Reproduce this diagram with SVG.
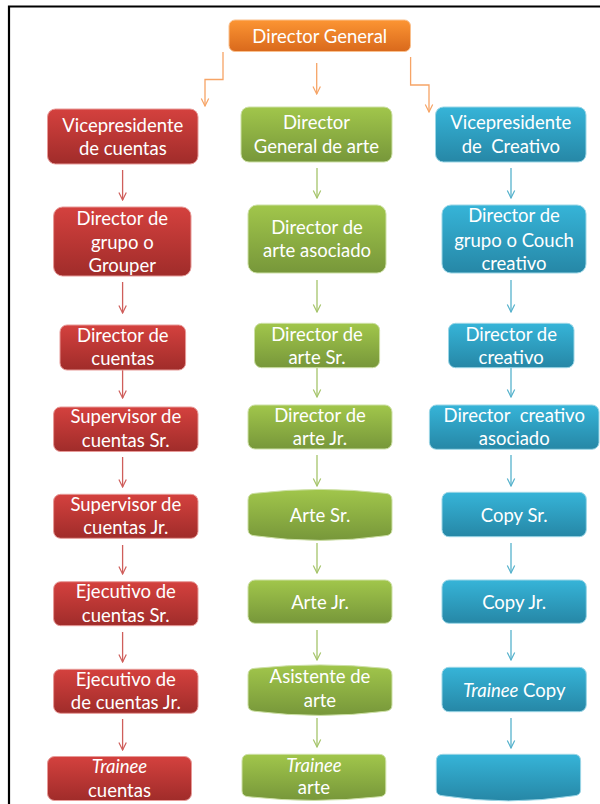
<svg xmlns="http://www.w3.org/2000/svg" width="600" height="804" viewBox="0 0 600 804">
<defs>
<linearGradient id="gO" x1="0" y1="0" x2="0" y2="1"><stop offset="0" stop-color="#fc9533"/><stop offset="1" stop-color="#d9691c"/></linearGradient>
<linearGradient id="gR" x1="0" y1="0" x2="0" y2="1"><stop offset="0" stop-color="#d4413e"/><stop offset="1" stop-color="#a02c2a"/></linearGradient>
<linearGradient id="gG" x1="0" y1="0" x2="0" y2="1"><stop offset="0" stop-color="#a1c64b"/><stop offset="1" stop-color="#77973a"/></linearGradient>
<linearGradient id="gB" x1="0" y1="0" x2="0" y2="1"><stop offset="0" stop-color="#36b4d8"/><stop offset="1" stop-color="#2687a6"/></linearGradient>
<marker id="aO" viewBox="0 0 10 10" refX="9" refY="5" markerWidth="10" markerHeight="10" markerUnits="userSpaceOnUse" orient="auto"><path d="M1.5,1.3 L9,5 L1.5,8.7" fill="none" stroke="#f6a466" stroke-width="1.2"/></marker>
<marker id="aR" viewBox="0 0 10 10" refX="9" refY="5" markerWidth="10" markerHeight="10" markerUnits="userSpaceOnUse" orient="auto"><path d="M1.5,1.3 L9,5 L1.5,8.7" fill="none" stroke="#cf5e5b" stroke-width="1.2"/></marker>
<marker id="aG" viewBox="0 0 10 10" refX="9" refY="5" markerWidth="10" markerHeight="10" markerUnits="userSpaceOnUse" orient="auto"><path d="M1.5,1.3 L9,5 L1.5,8.7" fill="none" stroke="#a5c46a" stroke-width="1.2"/></marker>
<marker id="aB" viewBox="0 0 10 10" refX="9" refY="5" markerWidth="10" markerHeight="10" markerUnits="userSpaceOnUse" orient="auto"><path d="M1.5,1.3 L9,5 L1.5,8.7" fill="none" stroke="#56b2cc" stroke-width="1.2"/></marker>
</defs>
<style>
text{font-family:Lato,"Open Sans","Liberation Sans",sans-serif;font-size:18.5px;fill:#ffffff;text-anchor:middle;white-space:pre}
.i{font-style:italic}
.o{fill:url(#gO);stroke:#f9c08e;stroke-width:1}
.r{fill:url(#gR);stroke:#e79a98;stroke-width:1}
.g{fill:url(#gG);stroke:#cde0a6;stroke-width:1}
.b{fill:url(#gB);stroke:#9bd6e6;stroke-width:1}
.cO{fill:none;stroke:#f6a466;stroke-width:1.3;marker-end:url(#aO)}
.cR{fill:none;stroke:#cf5e5b;stroke-width:1.3;marker-end:url(#aR)}
.cG{fill:none;stroke:#a5c46a;stroke-width:1.3;marker-end:url(#aG)}
.cB{fill:none;stroke:#56b2cc;stroke-width:1.3;marker-end:url(#aB)}
</style>
<rect width="600" height="804" fill="#ffffff"/>
<path d="M9,804 V6.5 H600" fill="none" stroke="#000000" stroke-width="2.2"/>

<g id="connectors">
<path class="cO" d="M223,52 V79.5 H205 V106"/>
<path class="cO" d="M316.7,63 V94"/>
<path class="cO" d="M410.6,57 V85 H429 V112"/>
<path class="cR" d="M122.6,170 V200"/>
<path class="cR" d="M122.6,282 V313"/>
<path class="cR" d="M122.6,370 V398"/>
<path class="cR" d="M122.6,457 V487"/>
<path class="cR" d="M122.6,545 V574"/>
<path class="cR" d="M122.6,632 V662"/>
<path class="cR" d="M122.6,719 V750"/>
<path class="cG" d="M317,168 V198"/>
<path class="cG" d="M317,280 V312"/>
<path class="cG" d="M317,368 V397"/>
<path class="cG" d="M317,455 V486"/>
<path class="cG" d="M317,543 V573"/>
<path class="cG" d="M317,630 V660"/>
<path class="cG" d="M317,718 V747"/>
<path class="cB" d="M511,168 V198"/>
<path class="cB" d="M511,280 V312"/>
<path class="cB" d="M511,368 V397"/>
<path class="cB" d="M511,455 V486"/>
<path class="cB" d="M511,543 V573"/>
<path class="cB" d="M511,630 V660"/>
<path class="cB" d="M511,718 V748"/>
</g>

<g id="director-general"><rect class="o" x="229" y="20" width="181.5" height="31.5" rx="6"/><text x="319.8" y="42.5">Director General</text></g>

<g id="vp-cuentas"><rect class="r" x="47.5" y="109" width="150.5" height="55" rx="8"/><text x="122.8" y="131.5">Vicepresidente</text><text x="122.8" y="155">de cuentas</text></g>
<g id="director-grupo"><rect class="r" x="53.6" y="207" width="137.4" height="69" rx="9"/><text x="122.3" y="225">Director de</text><text x="122.3" y="248.5">grupo o</text><text x="122.3" y="272">Grouper</text></g>
<g id="director-cuentas"><rect class="r" x="60" y="325" width="125.6" height="45" rx="7"/><text x="122.8" y="341.7">Director de</text><text x="122.8" y="365">cuentas</text></g>
<g id="supervisor-sr"><rect class="r" x="53.6" y="407" width="144.4" height="44.5" rx="7"/><text x="125.8" y="423.3">Supervisor de</text><text x="125.8" y="446.7">cuentas Sr.</text></g>
<g id="supervisor-jr"><rect class="r" x="53.6" y="494.3" width="144.4" height="44" rx="7"/><text x="125.8" y="511">Supervisor de</text><text x="125.8" y="534.3">cuentas Jr.</text></g>
<g id="ejecutivo-sr"><rect class="r" x="53.6" y="581.7" width="144.4" height="44" rx="7"/><text x="125.8" y="598.3">Ejecutivo de</text><text x="125.8" y="622">cuentas Sr.</text></g>
<g id="ejecutivo-jr"><rect class="r" x="53.6" y="669.3" width="144.4" height="44" rx="7"/><text x="125.8" y="685.5">Ejecutivo de</text><text x="125.8" y="708.5">de cuentas Jr.</text></g>
<g id="trainee-cuentas"><rect class="r" x="47.5" y="756.5" width="144" height="44" rx="7"/><text class="i" x="119.5" y="773.3">Trainee</text><text x="119.5" y="796.7">cuentas</text></g>

<g id="director-general-arte"><rect class="g" x="241" y="107" width="151" height="55" rx="8"/><text x="316.5" y="129.3">Director</text><text x="316.5" y="153">General de arte</text></g>
<g id="director-arte-asociado"><rect class="g" x="248" y="205" width="138" height="68" rx="9"/><text x="317" y="234">Director de</text><text x="317" y="257.3">arte asociado</text></g>
<g id="director-arte-sr"><rect class="g" x="254.5" y="323.3" width="125.1" height="44.4" rx="7"/><text x="317" y="340.7">Director de</text><text x="317" y="364">arte Sr.</text></g>
<g id="director-arte-jr"><rect class="g" x="248" y="405" width="144" height="44" rx="7"/><text x="320" y="421.7">Director de</text><text x="320" y="445">arte Jr.</text></g>
<g id="arte-sr"><path class="g" d="M248,500 Q248,493.5 255,493.3 Q320,485.5 385,493.3 Q392,493.5 392,500 V529.5 Q392,535.5 385,535.8 Q320,545 255,535.8 Q248,535.5 248,529.5 Z"/><text x="320" y="521.7">Arte Sr.</text></g>
<g id="arte-jr"><rect class="g" x="248" y="580" width="144" height="43.3" rx="7"/><text x="320" y="609.3">Arte Jr.</text></g>
<g id="asistente-arte"><path class="g" d="M248,675 Q248,668.5 255,668.3 Q320,661.5 385,668.3 Q392,668.5 392,675 V705 Q392,711 385,711.3 Q320,719.5 255,711.3 Q248,711 248,705 Z"/><text x="320" y="683.3">Asistente de</text><text x="320" y="707.3">arte</text></g>
<g id="trainee-arte"><path class="g" d="M242,761 Q242,754.3 249,754.3 H379 Q385.8,754.3 385.8,761 V791 Q385.8,796.5 379,796.8 Q314,804 249,796.8 Q242,796.5 242,791 Z"/><text class="i" x="314" y="771.7">Trainee</text><text x="314" y="794">arte</text></g>

<g id="vp-creativo"><rect class="b" x="435.5" y="107" width="150.5" height="55" rx="8"/><text x="510.8" y="129.3">Vicepresidente</text><text x="510.8" y="153">de  Creativo</text></g>
<g id="director-grupo-creativo"><rect class="b" x="442" y="205" width="144" height="68" rx="9"/><text x="514" y="221.7">Director de</text><text x="514" y="246.7">grupo o Couch</text><text x="514" y="270">creativo</text></g>
<g id="director-creativo"><rect class="b" x="448.5" y="323.3" width="125.5" height="44.4" rx="7"/><text x="511.2" y="340.7">Director de</text><text x="511.2" y="364">creativo</text></g>
<g id="director-creativo-asociado"><rect class="b" x="429.4" y="405" width="169.6" height="44.3" rx="7"/><text x="514.2" y="421.7">Director  creativo</text><text x="514.2" y="445">asociado</text></g>
<g id="copy-sr"><rect class="b" x="442" y="492.3" width="144.3" height="44.4" rx="7"/><text x="514.2" y="521.7">Copy Sr.</text></g>
<g id="copy-jr"><rect class="b" x="442" y="580" width="144.3" height="43.3" rx="7"/><text x="514.2" y="609.3">Copy Jr.</text></g>
<g id="trainee-copy"><rect class="b" x="442" y="667.3" width="144.3" height="44.4" rx="7"/><text x="514.2" y="696.7"><tspan class="i">Trainee</tspan> Copy</text></g>
<g id="blank-creativo"><path class="b" d="M436.3,761 Q436.3,754.3 443,754.3 H574 Q580.6,754.3 580.6,761 V790 Q580.6,795.5 574,795.8 Q508.5,806 443,795.8 Q436.3,795.5 436.3,790 Z"/></g>
</svg>
